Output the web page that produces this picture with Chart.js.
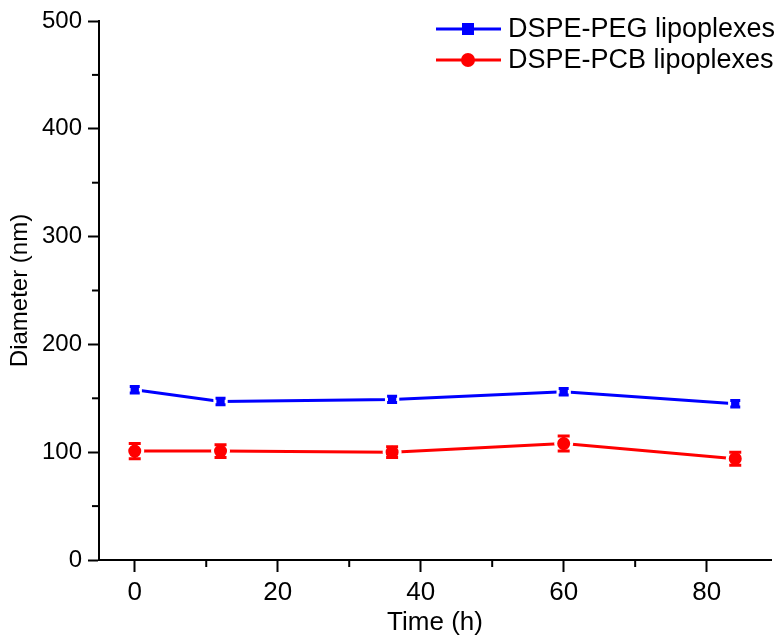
<!DOCTYPE html>
<html>
<head>
<meta charset="utf-8">
<script src="https://cdn.jsdelivr.net/npm/chart.js@4"></script>
<style>
  body { margin: 0; background: #fff; }
  #wrap { width: 782px; height: 640px; }
</style>
</head>
<body>
<div id="wrap"><canvas id="graficoDiametro" width="782" height="640"></canvas></div>
<script>
// datos
var tiempos = [0, 12, 36, 60, 84];
var pegDiametro = [158, 147, 149, 156, 145];
var pegError = [3, 3, 3, 3, 3];
var pcbDiametro = [101, 101, 100, 108, 94];
var pcbError = [7, 6, 5, 7, 6];
var xTicks = [0, 20, 40, 60, 80];
var yTicks = [0, 100, 200, 300, 400, 500];

var AZUL = '#0000ff';
var ROJO = '#ff0000';
var fuente = "'Liberation Sans', Arial, sans-serif";

function puntos(xs, ys) {
    var out = [];
    for (var i = 0; i < xs.length; i++) {
        out.push({x: xs[i], y: ys[i]});
    }
    return out;
}

// barras de error + ticks menores + leyenda
var extras = {
    id: 'extras',
    beforeDatasetsDraw: function (chart) {
        var ctx = chart.ctx;
        var sx = chart.scales.x, sy = chart.scales.y;
        var area = chart.chartArea;
        ctx.save();
        ctx.strokeStyle = '#000';
        ctx.lineWidth = 2;
        // ticks menores
        for (var v = 10; v < 89; v += 20) {
            var px = sx.getPixelForValue(v);
            ctx.beginPath();
            ctx.moveTo(px, area.bottom);
            ctx.lineTo(px, area.bottom + 7);
            ctx.stroke();
        }
        for (var w = 50; w < 500; w += 100) {
            var py = sy.getPixelForValue(w);
            ctx.beginPath();
            ctx.moveTo(area.left, py);
            ctx.lineTo(area.left - 7, py);
            ctx.stroke();
        }
        ctx.restore();
    },
    afterDatasetsDraw: function (chart) {
        var ctx = chart.ctx;
        var sx = chart.scales.x, sy = chart.scales.y;
        var series = [[pegDiametro, pegError, AZUL, 5], [pcbDiametro, pcbError, ROJO, 6]];
        ctx.save();
        series.forEach(function (s) {
            ctx.strokeStyle = s[2];
            ctx.lineWidth = 3;
            for (var i = 0; i < tiempos.length; i++) {
                var px = sx.getPixelForValue(tiempos[i]);
                var top = sy.getPixelForValue(s[0][i] + s[1][i]);
                var bot = sy.getPixelForValue(s[0][i] - s[1][i]);
                ctx.beginPath();
                ctx.moveTo(px, top); ctx.lineTo(px, bot);
                ctx.moveTo(px - s[3], top); ctx.lineTo(px + s[3], top);
                ctx.moveTo(px - s[3], bot); ctx.lineTo(px + s[3], bot);
                ctx.stroke();
            }
        });

        // leyenda
        var filas = [[chart.data.datasets[0].label, AZUL, 'rect', 29], [chart.data.datasets[1].label, ROJO, 'circle', 60]];
        filas.forEach(function (f) {
            var y = f[3];
            ctx.strokeStyle = f[1];
            ctx.lineWidth = 3;
            ctx.beginPath();
            ctx.moveTo(436, y); ctx.lineTo(501, y);
            ctx.stroke();
            ctx.fillStyle = f[1];
            if (f[2] === 'rect') {
                ctx.fillRect(462, y - 6, 12, 12);
            } else {
                ctx.beginPath();
                ctx.arc(468, y, 7, 0, Math.PI * 2);
                ctx.fill();
            }
            ctx.fillStyle = '#000';
            ctx.font = '27px ' + fuente;
            ctx.textBaseline = 'middle';
            ctx.textAlign = 'left';
            ctx.fillText(f[0], 508, y + 1);
        });
        ctx.restore();
    }
};

var ctx = document.getElementById('graficoDiametro').getContext('2d');
var chart = new Chart(ctx, {
    type: 'line',
    data: {
        datasets: [{
            label: 'DSPE-PEG lipoplexes',
            data: puntos(tiempos, pegDiametro),
            borderColor: AZUL,
            backgroundColor: AZUL,
            borderWidth: 3,
            pointStyle: 'rect',
            pointRadius: 8,
            pointBorderColor: '#fff',
            pointBorderWidth: 3,
            pointBackgroundColor: AZUL
        }, {
            label: 'DSPE-PCB lipoplexes',
            data: puntos(tiempos, pcbDiametro),
            borderColor: ROJO,
            backgroundColor: ROJO,
            borderWidth: 3,
            pointStyle: 'circle',
            pointRadius: 8,
            pointBorderColor: '#fff',
            pointBorderWidth: 3,
            pointBackgroundColor: ROJO
        }]
    },
    options: {
        responsive: false,
        animation: false,
        layout: { padding: { top: 21, right: 11, left: 0, bottom: 0 } },
        plugins: {
            legend: { display: false },
            tooltip: { enabled: false }
        },
        scales: {
            x: {
                type: 'linear',
                min: -5,
                max: 89,
                afterBuildTicks: function (scale) {
                    scale.ticks = xTicks.map(function (v) { return {value: v}; });
                },
                afterFit: function (scale) { scale.height = 80; },
                grid: { display: true, drawOnChartArea: false, drawTicks: true, tickLength: 12, tickWidth: 2, color: '#000' },
                border: { display: true, color: '#000', width: 2 },
                ticks: {
                    color: '#000',
                    padding: 5,
                    maxRotation: 0,
                    font: { family: fuente, size: 26 }
                },
                title: {
                    display: true,
                    text: 'Time (h)',
                    color: '#000',
                    padding: { top: 0, bottom: 2 },
                    font: { family: fuente, size: 26 }
                }
            },
            y: {
                min: 0,
                max: 500,
                afterBuildTicks: function (scale) {
                    scale.ticks = yTicks.map(function (v) { return {value: v}; });
                },
                afterFit: function (scale) { scale.width = 99; },
                grid: { display: true, drawOnChartArea: false, drawTicks: true, tickLength: 11, tickWidth: 2, color: '#000' },
                border: { display: true, color: '#000', width: 2 },
                ticks: {
                    color: '#000',
                    padding: 6,
                    font: { family: fuente, size: 24 }
                },
                title: {
                    display: true,
                    text: 'Diameter (nm)',
                    color: '#000',
                    padding: { top: 6, bottom: 0 },
                    font: { family: fuente, size: 24 }
                }
            }
        }
    },
    plugins: [extras]
});
</script>
</body>
</html>
